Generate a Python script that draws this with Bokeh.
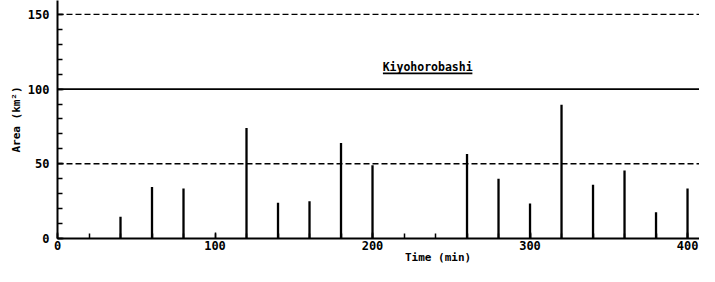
from bokeh.plotting import figure
from bokeh.models import SingleIntervalTicker, Span, Range1d
from bokeh.core.properties import value
from bokeh.embed import file_html
from bokeh.resources import INLINE

# Data
times = [40, 60, 80, 120, 140, 160, 180, 200, 260, 280, 300, 320, 340, 360, 380, 400]
areas = [14.5, 34.5, 33.5, 74, 24, 25, 64, 49, 56.5, 40, 23.5, 89.5, 36, 45.5, 17.5, 33.5]
dashed_levels = [50, 150]
solid_levels = [100]
station = "Kiyohorobashi"
station_x = 235
station_y = 114.5
x_label = "Time (min)"
y_label = "Area (km²)"

FONT = "DejaVu Sans Mono"

p = figure(width=699, height=266, output_backend="svg", toolbar_location=None,
           x_range=Range1d(0, 407.6), y_range=Range1d(0, 159.3),
           min_border_left=57, min_border_right=0, min_border_top=0, min_border_bottom=0)
p.outline_line_color = None
p.xgrid.visible = False
p.ygrid.visible = False
p.background_fill_color = "white"

# bars
p.segment(x0=times, y0=[0] * len(times), x1=times, y1=areas,
          line_color="black", line_width=2.3)

for lv in dashed_levels:
    p.add_layout(Span(location=lv, dimension="width", line_color="black",
                      line_width=1.4, line_dash="6 3"))
for lv in solid_levels:
    p.add_layout(Span(location=lv, dimension="width", line_color="black",
                      line_width=1.6))

# station label with underline
p.text(x=[station_x], y=[station_y], text=[station], text_align="center",
       text_baseline="alphabetic", text_font_size="11.5px", text_font_style="bold",
       text_color="black", text_font=value(FONT))
half = 28.4
p.segment(x0=[station_x - half], y0=[station_y - 4], x1=[station_x + half],
          y1=[station_y - 4], line_color="black", line_width=1.6)

# axes
xa = p.xaxis[0]
xa.ticker = SingleIntervalTicker(interval=100, num_minor_ticks=5)
ya = p.yaxis[0]
ya.ticker = SingleIntervalTicker(interval=50, num_minor_ticks=5)
for ax in (xa, ya):
    ax.axis_line_color = "black"
    ax.axis_line_width = 2
    ax.major_tick_in = 6
    ax.major_tick_out = 0
    ax.minor_tick_in = 5
    ax.minor_tick_out = 0
    ax.major_tick_line_width = 1.5
    ax.minor_tick_line_width = 1.5
    ax.major_tick_line_color = "black"
    ax.minor_tick_line_color = "black"
    ax.major_label_text_font = FONT
    ax.major_label_text_font_size = "12px"
    ax.major_label_text_font_style = "bold"
    ax.major_label_text_color = "black"
    ax.axis_label_text_font = FONT
    ax.axis_label_text_font_size = "11px"
    ax.axis_label_text_font_style = "bold"
    ax.axis_label_text_color = "black"

xa.major_label_standoff = 2
xa.axis_label_standoff = -2
# label shifted right (as in the reference) with leading no-break spaces
xa.axis_label = "\u00a0" * 18 + x_label
ya.major_label_standoff = 8
ya.axis_label = y_label
ya.axis_label_standoff = 2

open("out.html", "w").write(file_html(p, INLINE))
